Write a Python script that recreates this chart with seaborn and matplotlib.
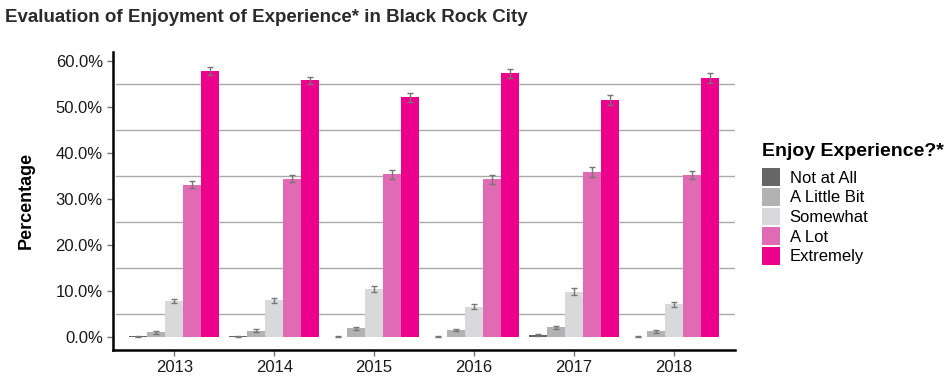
import numpy as np
import pandas as pd
import matplotlib.pyplot as plt
import seaborn as sns
from matplotlib.ticker import MultipleLocator, PercentFormatter
from matplotlib.patches import Patch

# Data (percentages)
years = ["2013", "2014", "2015", "2016", "2017", "2018"]
levels = ["Not at All", "A Little Bit", "Somewhat", "A Lot", "Extremely"]
not_at_all = [0.2, 0.2, 0.1, 0.1, 0.4, 0.1]
a_little_bit = [1.0, 1.4, 1.9, 1.5, 2.1, 1.2]
somewhat = [7.8, 8.0, 10.5, 6.6, 9.9, 7.1]
a_lot = [33.2, 34.5, 35.4, 34.3, 35.9, 35.2]
extremely = [58.0, 55.9, 52.2, 57.4, 51.7, 56.4]
err_not = [0.1, 0.1, 0.05, 0.05, 0.2, 0.05]
err_little = [0.25, 0.3, 0.3, 0.3, 0.35, 0.25]
err_some = [0.5, 0.55, 0.6, 0.5, 0.7, 0.5]
err_lot = [0.8, 0.8, 0.9, 0.9, 1.1, 0.9]
err_ext = [0.9, 0.8, 1.0, 1.0, 1.1, 1.0]
colors = ["#666666", "#b2b2b2", "#d9d9dc", "#e06ab3", "#ec008c"]

plt.rcParams["font.family"] = ["Liberation Sans", "DejaVu Sans"]

vals = [not_at_all, a_little_bit, somewhat, a_lot, extremely]
errs = [err_not, err_little, err_some, err_lot, err_ext]
rows = []
for lev, v, e in zip(levels, vals, errs):
    for y, val, er in zip(years, v, e):
        rows.append({"Year": y, "Enjoy": lev, "Pct": val, "Err": er})
df = pd.DataFrame(rows)

fig = plt.figure(figsize=(9.52, 3.84), dpi=100)
ax = fig.add_axes([0.119, 0.089, 0.653, 0.776])

sns.barplot(data=df, x="Year", y="Pct", hue="Enjoy", order=years, hue_order=levels,
            palette=colors, width=0.9, errorbar=None, saturation=1, ax=ax, legend=False)

# error bars at the bar centres
for cont, lev in zip(ax.containers, levels):
    sub = df[df["Enjoy"] == lev].set_index("Year").loc[years]
    xs = [p.get_x() + p.get_width() / 2 for p in cont.patches]
    ax.errorbar(xs, sub["Pct"], yerr=sub["Err"], fmt="none", ecolor="#777777",
                elinewidth=1, capsize=2, capthick=1, zorder=3)

ax.set_xlim(-0.61, 5.61)
ax.set_ylim(-2.8, 62.1)
ax.yaxis.set_major_locator(MultipleLocator(10))
ax.yaxis.set_major_formatter(PercentFormatter(decimals=1))
ax.grid(False)
for yv in np.arange(5, 60, 10):
    ax.axhline(yv, xmin=0.004, color="#aaaaaa", lw=1, zorder=0)
ax.set_axisbelow(True)
ax.tick_params(axis="both", which="major", length=4, width=1, color="#777777",
               labelsize=12, labelcolor="#1a1a1a")
for s in ["top", "right"]:
    ax.spines[s].set_visible(False)
for s in ["left", "bottom"]:
    ax.spines[s].set_linewidth(1.8)
    ax.spines[s].set_color("black")
ax.set_xlabel("")
ax.set_ylabel("Percentage", fontsize=13, fontweight="bold", labelpad=15)

handles = [Patch(facecolor=c, edgecolor="none") for c in colors]
leg = fig.legend(handles, levels, title="Enjoy Experience?*", loc="upper left",
                 bbox_to_anchor=(762 / 952, 1 - 143 / 384), frameon=False, fontsize=12,
                 title_fontproperties={"weight": "bold", "size": 14},
                 borderpad=0, borderaxespad=0,
                 handlelength=1.05, handleheight=1.24, handletextpad=0.6, labelspacing=0.13)
leg._legend_box.align = "left"
leg._legend_box.sep = 6

fig.text(5 / 952, 1 - 17 / 384, "Evaluation of Enjoyment of Experience* in Black Rock City",
         fontsize=13.5, fontweight="bold", color="#2b2b2b", ha="left", va="center")

fig.savefig("out.png", dpi=100)
